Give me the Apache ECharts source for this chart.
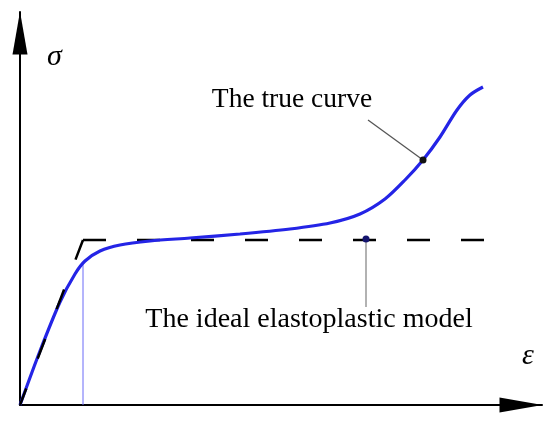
<!DOCTYPE html>
<html>
<head>
<meta charset="utf-8">
<script src="https://cdn.jsdelivr.net/npm/echarts@6/dist/echarts.min.js"></script>
<style>
  html, body { margin: 0; padding: 0; background: #fff; }
  #chart { width: 550px; height: 421px; }
</style>
</head>
<body>
<div id="chart"></div>
<script>
  // strain / stress in arbitrary units (schematic)
  const trueStrain = [0, 20, 40, 55, 65, 80, 100, 130, 170, 220, 270, 310, 340, 365, 385, 403, 420, 437, 450, 463]
  const trueStress = [0, 54, 103, 131, 144, 154, 160, 164, 167, 171, 176, 182, 191, 206, 225, 245, 268, 295, 310, 318]

  const yieldStrain = 63
  const yieldStress = 165
  const idealEndStrain = 465

  const yieldMarkStress = 143 // where the true curve crosses the yield strain

  const trueNote = { text: 'The true curve', at: [403, 245], leaderEnd: [348, 285] }
  const idealNote = { text: 'The ideal elastoplastic model', at: [346, 166], leaderEnd: [346, 98] }

  const axisMax = { x: 522, y: 393 }

  const zip = (xs, ys) => xs.map((x, i) => [x, ys[i]])

  const chart = echarts.init(document.getElementById('chart'), null, { renderer: 'canvas' })

  const serif = '"Liberation Serif", "Times New Roman", serif'

  const axisBase = {
    type: 'value',
    min: 0,
    axisTick: { show: false },
    axisLabel: { show: false },
    splitLine: { show: false },
    axisLine: {
      show: true,
      onZero: false,
      symbol: ['none', 'triangle'],
      symbolSize: [15, 43],
      symbolOffset: [0, -21],
      lineStyle: { color: '#000', width: 2 }
    }
  }

  chart.setOption({
    animation: false,
    backgroundColor: '#fff',
    grid: { left: 20, right: 8, top: 12, bottom: 16 },
    xAxis: Object.assign({}, axisBase, {
      max: axisMax.x,
      name: 'ε',
      nameLocation: 'end',
      nameGap: -14,
      nameTextStyle: {
        fontFamily: serif, fontStyle: 'italic', fontSize: 30, color: '#000',
        align: 'center', verticalAlign: 'bottom', padding: [0, 0, 34, 0]
      }
    }),
    yAxis: Object.assign({}, axisBase, {
      max: axisMax.y,
      name: 'σ',
      nameLocation: 'end',
      nameGap: -45,
      nameTextStyle: {
        fontFamily: serif, fontStyle: 'italic', fontSize: 30, color: '#000',
        align: 'left', verticalAlign: 'middle', padding: [0, 0, 0, 27]
      }
    }),
    series: [
      {
        name: 'ideal plastic',
        type: 'line',
        data: [[yieldStrain, yieldStress], [idealEndStrain, yieldStress]],
        showSymbol: false,
        lineStyle: { color: '#000', width: 2.5, type: [23, 31] },
        z: 2
      },
      {
        name: 'yield mark',
        type: 'line',
        data: [[yieldStrain, 0], [yieldStrain, yieldMarkStress]],
        showSymbol: false,
        lineStyle: { color: '#6a6af8', width: 1 },
        z: 1
      },
      {
        name: 'true curve',
        type: 'line',
        data: zip(trueStrain, trueStress),
        smooth: 0.3,
        showSymbol: false,
        lineStyle: { color: '#2424e6', width: 3.2 },
        z: 3
      },
      {
        name: 'ideal elastic',
        type: 'line',
        data: [[yieldStrain, yieldStress], [0, 0]],
        showSymbol: false,
        lineStyle: { color: '#000', width: 2.5, type: [21, 32] },
        z: 4
      },
      {
        name: 'leader true',
        type: 'line',
        data: [trueNote.at, trueNote.leaderEnd],
        showSymbol: false,
        lineStyle: { color: '#555', width: 1.2 },
        z: 4
      },
      {
        name: 'leader ideal',
        type: 'line',
        data: [idealNote.at, idealNote.leaderEnd],
        showSymbol: false,
        lineStyle: { color: '#999', width: 1.5 },
        z: 4
      },
      {
        name: 'notes',
        type: 'scatter',
        symbolSize: 7,
        z: 5,
        itemStyle: { opacity: 1 },
        data: [
          {
            value: trueNote.at,
            itemStyle: { color: '#111' },
            label: { show: true, formatter: trueNote.text, position: 'inside', offset: [-131, -60], fontSize: 27.5 }
          },
          {
            value: idealNote.at,
            itemStyle: { color: '#14146e' },
            label: { show: true, formatter: idealNote.text, position: 'inside', offset: [-57, 81], fontSize: 28 }
          }
        ],
        label: {
          fontFamily: serif,
          color: '#000',
          textBorderWidth: 0,
          align: 'center',
          verticalAlign: 'middle'
        }
      }
    ]
  })
</script>
</body>
</html>
